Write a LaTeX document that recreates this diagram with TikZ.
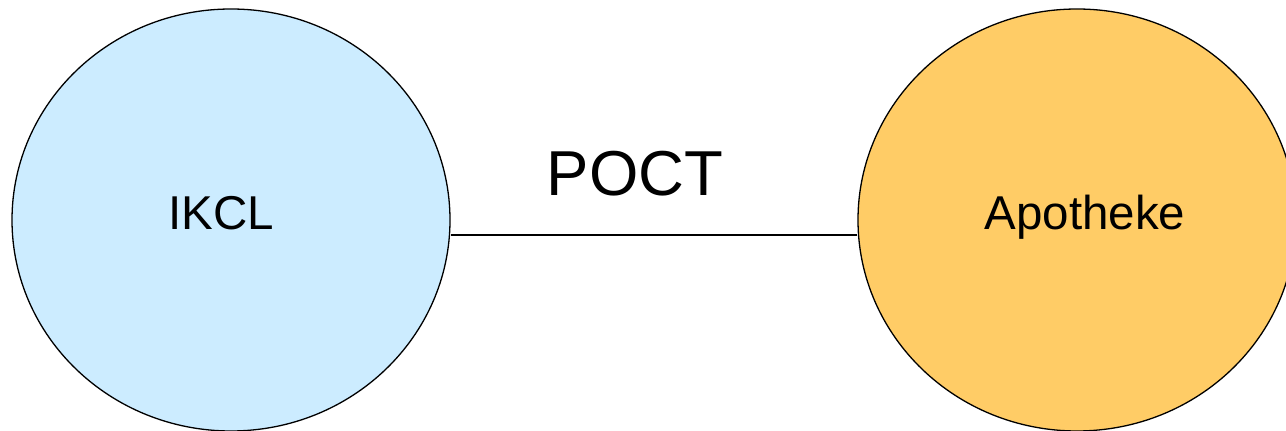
\documentclass[tikz,border=0pt]{standalone}
\usepackage{fontspec}
\setmainfont{Liberation Sans}
\usetikzlibrary{shapes.geometric}
\definecolor{ikclblue}{HTML}{CCECFF}
\definecolor{apoorange}{HTML}{FFCC66}
\tikzset{
  site/.style={ellipse, draw=black, line width=1.3pt, inner sep=0pt,
    minimum width=438pt, minimum height=422pt},
  sitelabel/.style={anchor=base, inner sep=0pt, font=\fontsize{47.5}{52}\selectfont},
  link/.style={draw=black, line width=1.3pt}
}
\begin{document}
\begin{tikzpicture}[x=1pt, y=1pt]
  \useasboundingbox (0,0) rectangle (1286,431);
  \clip (0,0) rectangle (1286,431);
  % the two sites
  \node[site, fill=ikclblue] (ikcl) at (231,211) {};
  \node[site, fill=apoorange] (apo) at (1077,211) {};
  \node[sitelabel] (ikcltext) at (221,201) {IKCL};
  \node[sitelabel] (apotext) at (1085,201) {Apotheke};
  % connection between them
  \draw[link] ([yshift=-15pt]ikcl.east) -- ([yshift=-15pt]apo.west);
  \node[anchor=base, inner sep=0pt, font=\fontsize{63.5}{70}\selectfont] (poct) at (635,235) {POCT};
\end{tikzpicture}
\end{document}
